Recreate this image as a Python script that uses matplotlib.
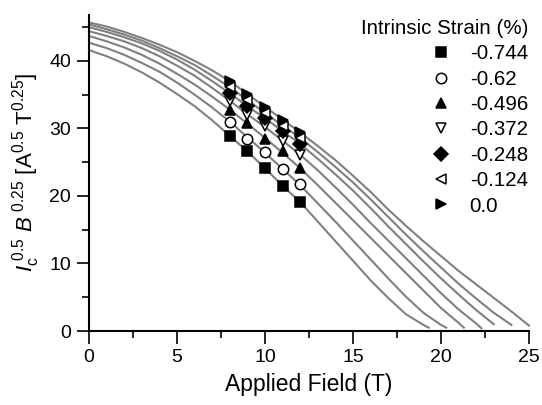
import matplotlib
matplotlib.use('Agg')
import matplotlib.pyplot as plt
from matplotlib.ticker import MultipleLocator

plt.rcParams['font.family'] = ['Liberation Sans', 'DejaVu Sans']
plt.rcParams['mathtext.fontset'] = 'custom'
plt.rcParams['mathtext.rm'] = 'Liberation Sans'
plt.rcParams['mathtext.it'] = 'Liberation Sans:italic'

# intrinsic strain (%) for each data set
strains = ['-0.744', '-0.62', '-0.496', '-0.372', '-0.248', '-0.124', '0.0']
markers = ['s', 'o', '^', 'v', 'D', '<', '>']
filled = [True, False, True, False, True, False, True]

# measured points
marker_field = [8, 9, 10, 11, 12]
marker_vals = [
    [28.9, 26.6, 24.1, 21.5, 19.1],
    [30.9, 28.5, 26.5, 24.0, 21.7],
    [32.7, 30.8, 28.5, 26.6, 24.1],
    [34.0, 32.0, 30.3, 28.2, 26.1],
    [35.2, 33.3, 31.5, 29.6, 27.7],
    [36.1, 34.2, 32.3, 30.4, 28.6],
    [37.0, 35.1, 33.2, 31.2, 29.4],
]

# fitted curves
curve_field = [
    [0, 1, 2, 3, 4, 5, 6, 7, 8, 9, 10, 11, 12, 13, 14, 15, 16, 17, 18, 19, 19.3],
    [0, 1, 2, 3, 4, 5, 6, 7, 8, 9, 10, 11, 12, 13, 14, 15, 16, 17, 18, 19, 20, 20.3],
    [0, 1, 2, 3, 4, 5, 6, 7, 8, 9, 10, 11, 12, 13, 14, 15, 16, 17, 18, 19, 20, 21, 21.3],
    [0, 1, 2, 3, 4, 5, 6, 7, 8, 9, 10, 11, 12, 13, 14, 15, 16, 17, 18, 19, 20, 21, 22, 22.3],
    [0, 1, 2, 3, 4, 5, 6, 7, 8, 9, 10, 11, 12, 13, 14, 15, 16, 17, 18, 19, 20, 21, 22, 23],
    [0, 1, 2, 3, 4, 5, 6, 7, 8, 9, 10, 11, 12, 13, 14, 15, 16, 17, 18, 19, 20, 21, 22, 23, 24],
    [0, 1, 2, 3, 4, 5, 6, 7, 8, 9, 10, 11, 12, 13, 14, 15, 16, 17, 18, 19, 20, 21, 22, 23, 24, 25],
]
curve_vals = [
    [41.6, 40.7, 39.6, 38.3, 36.8, 35.1, 33.3, 31.2, 28.9, 26.6, 24.1, 21.5, 19.1,
     16.2, 13.3, 10.4, 7.5, 4.9, 2.5, 0.9, 0.5],
    [42.7, 41.9, 40.9, 39.7, 38.4, 36.8, 35.0, 33.1, 31.0, 28.7, 26.4, 24.0, 21.6,
     18.9, 16.2, 13.4, 10.6, 7.8, 5.1, 2.7, 0.9, 0.5],
    [43.7, 42.9, 42.0, 40.9, 39.6, 38.1, 36.5, 34.7, 32.8, 30.7, 28.6, 26.4, 24.1,
     21.6, 19.0, 16.4, 13.8, 11.2, 8.6, 6.0, 3.4, 1.2, 0.5],
    [44.4, 43.7, 42.9, 41.9, 40.7, 39.3, 37.8, 36.0, 34.1, 32.1, 30.2, 28.2, 26.1,
     23.8, 21.3, 18.7, 16.0, 13.4, 10.8, 8.2, 5.6, 3.2, 1.1, 0.4],
    [45.0, 44.3, 43.5, 42.6, 41.5, 40.2, 38.7, 37.0, 35.2, 33.3, 31.5, 29.6, 27.7,
     25.5, 23.2, 20.8, 18.2, 15.5, 12.9, 10.3, 7.8, 5.4, 3.1, 1.0],
    [45.4, 44.7, 43.9, 43.0, 41.9, 40.7, 39.4, 37.8, 36.1, 34.2, 32.3, 30.4, 28.6,
     26.5, 24.3, 22.0, 19.5, 16.9, 14.3, 11.8, 9.4, 7.0, 4.8, 2.7, 0.9],
    [45.7, 45.1, 44.3, 43.4, 42.4, 41.3, 40.0, 38.6, 37.0, 35.1, 33.2, 31.3, 29.4,
     27.4, 25.3, 23.0, 20.6, 18.0, 15.6, 13.3, 11.1, 8.9, 6.9, 4.9, 2.9, 0.8],
]

fig = plt.figure(figsize=(5.42, 4.05), dpi=100)
ax = fig.add_axes([89 / 542, 74 / 405, 440 / 542, 316 / 405])

for xs, ys in zip(curve_field, curve_vals):
    ax.plot(xs, ys, color='#808080', lw=1.5, zorder=2, clip_on=False)

for lab, m, f, ys in zip(strains, markers, filled, marker_vals):
    ax.plot(marker_field, ys, ls='none', marker=m, ms=7.5,
            mfc='black' if f else 'white', mec='black', mew=1.1,
            label=lab, zorder=3)

ax.set_xlim(0, 25)
ax.set_ylim(0, 46.8)
ax.xaxis.set_major_locator(MultipleLocator(5))
ax.xaxis.set_minor_locator(MultipleLocator(2.5))
ax.yaxis.set_major_locator(MultipleLocator(10))
ax.yaxis.set_minor_locator(MultipleLocator(5))

for side in ['top', 'right']:
    ax.spines[side].set_visible(False)
for side in ['left', 'bottom']:
    ax.spines[side].set_linewidth(1.5)

ax.tick_params(which='major', direction='out', length=9, width=1.2,
               labelsize=14, pad=4)
ax.tick_params(which='minor', direction='out', length=5, width=1.2)

ax.set_xlabel('Applied Field (T)', fontsize=16.5, labelpad=5)
ax.set_ylabel(r'$I_{\mathrm{c}}^{\ 0.5}\ B^{\ 0.25}\ [\mathrm{A}^{0.5}\ \mathrm{T}^{0.25}]$',
              fontsize=16, labelpad=5)

leg = ax.legend(loc='upper right', bbox_to_anchor=(528 / 542, 386 / 405),
                bbox_transform=fig.transFigure, frameon=False,
                title='Intrinsic Strain (%)', title_fontsize=14.8, fontsize=14.8,
                handlelength=0.8, handletextpad=1.0, labelspacing=0.31,
                borderpad=0, borderaxespad=0, alignment='right')

fig.savefig('out.png', dpi=100)
